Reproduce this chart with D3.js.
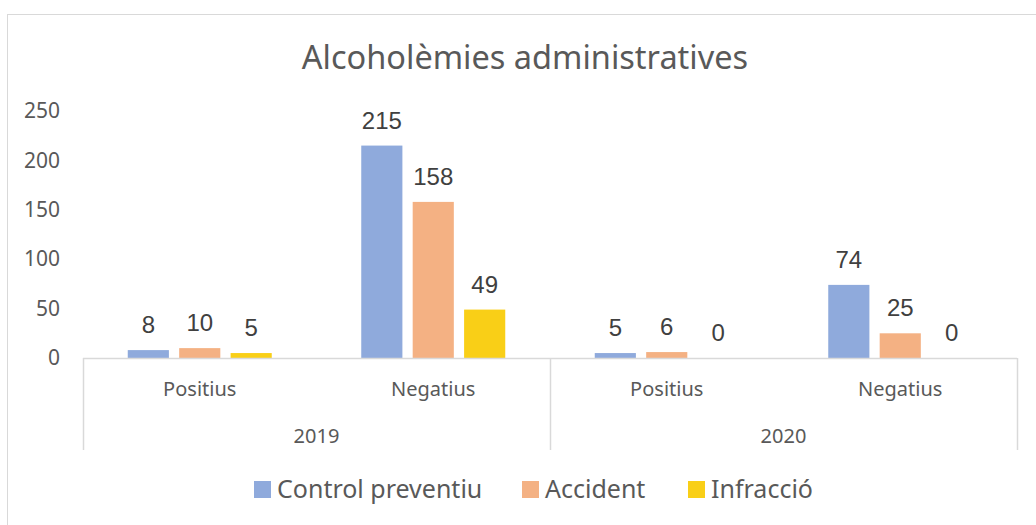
<!doctype html>
<html lang="ca">
<head>
  <meta charset="utf-8">
  <title>Alcoholèmies administratives</title>
  <script src="https://d3js.org/d3.v7.min.js"></script>
  <style>
    body { margin: 0; background: #fff; }
    svg text { font-family: "Noto Sans", "Open Sans", sans-serif; }
    .val { font-family: "Liberation Sans", Arial, sans-serif !important; }
  </style>
</head>
<body>
<script>
// chart data
var years = ['2019', '2020'];
var results = ['Positius', 'Negatius'];
var seriesNames = ['Control preventiu', 'Accident', 'Infracció'];
var controlPreventiu = [8, 215, 5, 74];
var accident = [10, 158, 6, 25];
var infraccio = [5, 49, 0, 0];
var yTicks = [0, 50, 100, 150, 200, 250];

var colors = ['#8faadc', '#f4b183', '#f9cf17'];
var seriesValues = [controlPreventiu, accident, infraccio];

var width = 1036, height = 525;
var plotLeft = 83, plotRight = 1017, plotTop = 111, zeroY = 358;

var svg = d3.select('body').append('svg')
  .attr('width', width)
  .attr('height', height);

// chart frame (runs off the right and bottom edges)
svg.append('rect')
  .attr('x', 7.5).attr('y', 14.5)
  .attr('width', 1040).attr('height', 530)
  .attr('fill', 'none')
  .attr('stroke', '#d9d9d9');

svg.append('text')
  .attr('x', 525).attr('y', 69)
  .attr('text-anchor', 'middle')
  .attr('font-size', 32.5)
  .attr('fill', '#595959')
  .text('Alcoholèmies administratives');

// categories: year x result
var cats = [];
years.forEach(function(yr) {
  results.forEach(function(r) { cats.push(yr + '|' + r); });
});

var x = d3.scaleBand().domain(cats).range([plotLeft, plotRight]);
var xs = d3.scaleBand().domain(seriesNames).range([-72, 72]).paddingInner(0.2);
var y = d3.scaleLinear().domain([0, 250]).range([zeroY, plotTop]);

// y axis labels, no line
var yAxis = svg.append('g')
  .attr('transform', 'translate(60,0)')
  .call(d3.axisLeft(y).tickValues(yTicks).tickSize(0).tickPadding(0));
yAxis.select('.domain').remove();
yAxis.selectAll('text')
  .attr('font-size', 21)
  .attr('fill', '#595959')
  .style('font-family', '"Noto Sans", sans-serif');

// bars
seriesNames.forEach(function(name, si) {
  var g = svg.append('g');
  g.selectAll('rect')
    .data(seriesValues[si])
    .enter()
    .append('rect')
    .attr('x', function(d, i) { return x(cats[i]) + x.bandwidth() / 2 + xs(name); })
    .attr('y', function(d) { return y(d); })
    .attr('width', xs.bandwidth())
    .attr('height', function(d) { return zeroY - y(d); })
    .attr('fill', colors[si]);
  g.selectAll('text')
    .data(seriesValues[si])
    .enter()
    .append('text')
    .attr('class', 'val')
    .attr('x', function(d, i) { return x(cats[i]) + x.bandwidth() / 2 + xs(name) + xs.bandwidth() / 2; })
    .attr('y', function(d) { return y(d) - 17; })
    .attr('text-anchor', 'middle')
    .attr('font-size', 24)
    .attr('fill', '#404040')
    .text(function(d) { return d; });
});

// multi-level category axis
var axisCol = '#d9d9d9';
svg.append('line')
  .attr('x1', plotLeft).attr('x2', plotRight)
  .attr('y1', zeroY + 0.5).attr('y2', zeroY + 0.5)
  .attr('stroke', axisCol).attr('stroke-width', 1.5);

var yearEdges = [plotLeft];
years.forEach(function(yr) {
  yearEdges.push(x(yr + '|' + results[results.length - 1]) + x.bandwidth());
});
svg.selectAll('line.sep')
  .data(yearEdges)
  .enter()
  .append('line')
  .attr('class', 'sep')
  .attr('x1', function(d) { return Math.round(d) + 0.5; })
  .attr('x2', function(d) { return Math.round(d) + 0.5; })
  .attr('y1', zeroY).attr('y2', 450)
  .attr('stroke', axisCol).attr('stroke-width', 1.5);

svg.selectAll('text.cat')
  .data(cats)
  .enter()
  .append('text')
  .attr('class', 'cat')
  .attr('x', function(d) { return x(d) + x.bandwidth() / 2; })
  .attr('y', 396)
  .attr('text-anchor', 'middle')
  .attr('font-size', 20)
  .attr('fill', '#595959')
  .text(function(d) { return d.split('|')[1]; });

svg.selectAll('text.year')
  .data(years)
  .enter()
  .append('text')
  .attr('class', 'year')
  .attr('x', function(d, i) { return (yearEdges[i] + yearEdges[i + 1]) / 2; })
  .attr('y', 443)
  .attr('text-anchor', 'middle')
  .attr('font-size', 20)
  .attr('fill', '#595959')
  .text(function(d) { return d; });

// legend
var legendX = [254, 522, 688];
var leg = svg.selectAll('g.leg')
  .data(seriesNames)
  .enter()
  .append('g')
  .attr('class', 'leg')
  .attr('transform', function(d, i) { return 'translate(' + legendX[i] + ',481)'; });
leg.append('rect')
  .attr('width', 17).attr('height', 17)
  .attr('fill', function(d, i) { return colors[i]; });
leg.append('text')
  .attr('x', 23).attr('y', 17)
  .attr('font-size', 25)
  .attr('fill', '#595959')
  .text(function(d) { return d; });
</script>
</body>
</html>
